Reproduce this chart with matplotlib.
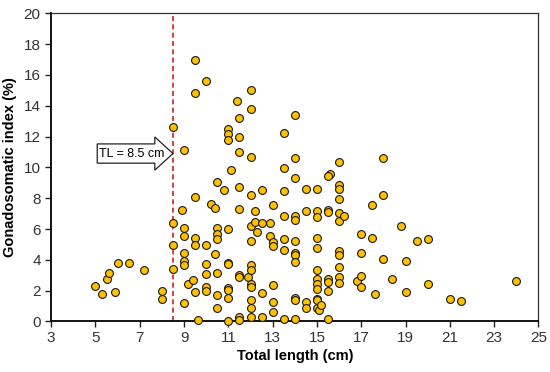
import numpy as np
import matplotlib.pyplot as plt
import matplotlib as mpl
from matplotlib.patches import FancyArrow

mpl.use("Agg")
plt.rcParams["font.family"] = ["Liberation Sans", "DejaVu Sans"]

# total length (cm) and GSI (%), grouped by length
length = [
    5.0, 5.3, 5.5, 5.6, 5.9, 6.0, 6.5, 7.2, 8.0, 8.0,
    8.5, 8.5, 8.5, 8.5, 8.9,
    9.0, 9.0, 9.0, 9.0, 9.0, 9.0, 9.0, 9.2, 9.4,
    9.5, 9.5, 9.5, 9.5, 9.5, 9.5, 9.64,
    10.0, 10.0, 10.0, 10.0, 10.0, 10.0, 10.2, 10.4, 10.4,
    10.5, 10.5, 10.5, 10.5, 10.5, 10.5, 10.5, 10.8,
    11.0, 11.0, 11.0, 11.1, 11.0, 11.0, 11.0, 11.0, 11.0, 11.0, 11.0,
    11.4, 11.5, 11.5, 11.5, 11.5, 11.5, 11.5, 11.5, 11.5, 11.5, 11.9,
    12.0, 12.0, 12.0, 12.0, 12.0, 12.0, 12.0, 12.0, 12.0, 12.0, 12.0, 12.0, 12.0,
    12.2, 12.2, 12.3, 12.5, 12.5, 12.5, 12.5, 12.9, 12.9,
    13.0, 13.0, 13.0, 13.0, 13.0, 13.0,
    13.5, 13.5, 13.5, 13.5, 13.5, 13.5, 13.5,
    14.0, 14.0, 14.0, 14.0, 14.0, 14.0, 14.0, 14.0, 14.0, 14.0, 14.0, 14.0,
    14.5, 14.5, 14.5, 14.5,
    15.0, 15.0, 15.0, 15.0, 15.0, 15.0, 15.0, 15.0, 15.0, 15.0, 15.0, 15.0,
    15.1, 15.2,
    15.6, 15.5, 15.5, 15.5, 15.5, 15.5, 15.5, 15.5,
    16.0, 16.0, 16.0, 16.0, 16.0, 16.0, 16.0, 16.0, 16.0, 16.0, 16.0, 16.2,
    16.8, 17.0, 17.0, 17.0, 17.0, 17.5, 17.5, 17.6,
    18.0, 18.0, 18.0, 18.4, 18.8, 19.0, 19.0, 19.5, 20.0, 20.0,
    21.0, 21.5, 24.0,
]
gsi = [
    2.3, 1.75, 2.73, 3.12, 1.9, 3.81, 3.81, 3.33, 1.97, 1.45,
    12.6, 6.37, 4.97, 3.4, 7.22,
    11.12, 6.06, 5.56, 4.44, 3.94, 3.64, 1.2, 2.42, 2.72,
    17.0, 14.86, 8.08, 5.43, 4.93, 1.88, 0.1,
    15.58, 4.93, 3.7, 3.1, 2.25, 2.0, 7.6, 7.38, 4.38,
    9.02, 6.08, 5.65, 5.37, 3.14, 1.69, 0.86, 8.55,
    12.5, 12.16, 11.8, 9.8, 5.97, 3.78, 3.7, 2.2, 2.05, 1.5, 0.05,
    14.3, 13.18, 11.97, 11.02, 8.72, 7.32, 2.99, 2.88, 0.26, 0.08, 2.9,
    15.03, 13.78, 10.69, 8.21, 6.17, 5.2, 3.66, 3.33, 2.4, 2.22, 1.38, 0.84, 0.26,
    7.16, 6.44, 5.78, 8.56, 6.4, 1.87, 0.26, 6.38, 5.54,
    7.53, 5.18, 4.9, 2.34, 1.27, 0.6,
    12.24, 9.93, 8.45, 6.84, 5.37, 4.63, 0.16,
    13.38, 10.63, 9.33, 6.86, 6.58, 5.22, 4.47, 4.3, 3.83, 1.53, 1.36, 0.16,
    8.6, 7.14, 1.28, 0.88,
    8.6, 7.17, 6.8, 5.41, 4.76, 3.32, 2.77, 2.4, 2.1, 1.45, 1.36, 0.85,
    0.71, 1.06,
    9.55, 9.44, 7.25, 7.1, 2.77, 2.57, 1.97, 0.15,
    10.37, 8.88, 8.58, 7.93, 7.04, 6.54, 4.55, 4.33, 3.56, 2.88, 2.52, 6.84,
    2.64, 5.67, 4.42, 2.95, 2.22, 7.53, 5.42, 1.8,
    10.63, 8.18, 4.07, 2.76, 6.18, 3.92, 1.9, 5.2, 5.35, 2.42,
    1.46, 1.35, 2.61,
]
cutoff = 8.5
label_y = 10.9

fig = plt.figure(figsize=(5.5, 3.72), dpi=100)
ax = fig.add_axes([0.093, 0.136, 0.886, 0.828])

ax.axvline(cutoff, color="#d42020", ls=(0, (3, 2)), lw=1.2, zorder=1)
ax.scatter(length, gsi, s=32, c="#ffc000", edgecolors="#1a1a1a",
           linewidths=0.8, zorder=3, clip_on=False)

# block arrow pointing at the cut-off line
arr = FancyArrow(5.08, label_y, cutoff - 5.08, 0, width=1.25, head_width=2.15,
                 head_length=0.82, length_includes_head=True,
                 fc="white", ec="#222222", lw=0.9, zorder=4)
ax.add_patch(arr)
ax.text(6.64, label_y, "TL = 8.5 cm", ha="center", va="center", fontsize=9,
        zorder=5)

ax.set_xlim(3, 25)
ax.set_ylim(0, 20)
ax.set_xticks(np.arange(3, 26, 2))
ax.set_yticks(np.arange(0, 21, 2))
ax.tick_params(labelsize=11, labelcolor="#333333", color="#222222", length=4, width=1)
ax.tick_params(axis="x", pad=3)
for s in ["left", "bottom"]:
    ax.spines[s].set_linewidth(1.3)
for s in ["top", "right"]:
    ax.spines[s].set_linewidth(0.9)
    ax.spines[s].set_color("#333333")

ax.set_xlabel("Total length (cm)", fontsize=10.5, fontweight="bold", labelpad=3)
ax.set_ylabel("Gonadosomatic index (%)", fontsize=10.5, fontweight="bold", labelpad=5)

fig.savefig("out.png", dpi=100)
